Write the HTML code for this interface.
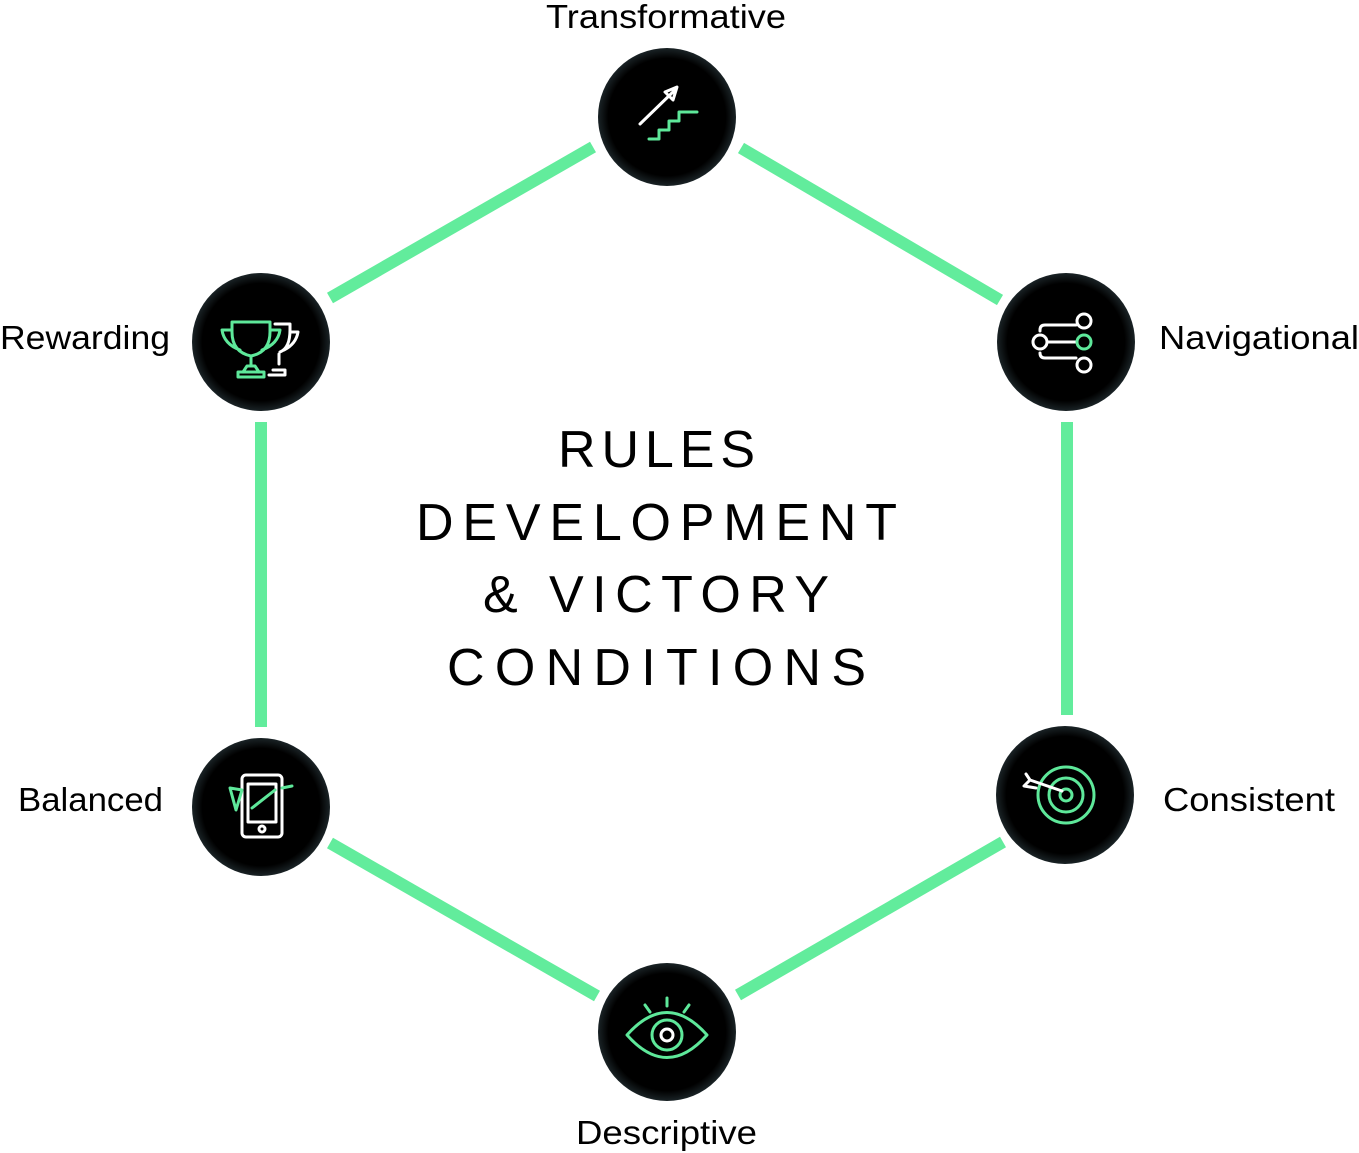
<!DOCTYPE html>
<html><head><meta charset="utf-8"><style>
html,body{margin:0;padding:0;background:#fff;}
svg{display:block;}
text{font-family:"Liberation Sans",sans-serif;fill:#000;}
</style></head><body>
<svg width="1359" height="1153" viewBox="0 0 1359 1153" xmlns="http://www.w3.org/2000/svg">
<defs>
<radialGradient id="g" cx="0.5" cy="0.5" r="0.5">
<stop offset="0.85" stop-color="#000"/><stop offset="1" stop-color="#1a2326"/>
</radialGradient>
</defs>
<g stroke="#62ec9c" stroke-width="12" fill="none">
<line x1="593" y1="147" x2="330" y2="298"/>
<line x1="741" y1="148" x2="1000" y2="300"/>
<line x1="1067" y1="422" x2="1067" y2="715"/>
<line x1="261" y1="422" x2="261" y2="727"/>
<line x1="330" y1="843" x2="597" y2="996"/>
<line x1="1003" y1="842" x2="738" y2="995"/>
</g>
<g fill="url(#g)">
<circle cx="667" cy="117" r="69"/>
<circle cx="1066" cy="342" r="69"/>
<circle cx="1065" cy="795" r="69"/>
<circle cx="667" cy="1032" r="69"/>
<circle cx="261" cy="807" r="69"/>
<circle cx="261" cy="342" r="69"/>
</g>
<g fill="none" stroke-width="3" stroke-linecap="round" stroke-linejoin="round">
<path d="M640 124 L675 90 M665 92 L677 87 L673 100 Z" stroke="#fff"/>
<path d="M649 139 H659 V130 H669 V121 H679 V112 H697" stroke="#5ee89a"/>
<path d="M232 322 H270 V332 Q270 352 251 356 Q232 352 232 332 Z M232 330 H222 Q224 344 240 350 M270 330 H280 Q278 344 262 350 M251 356 V366 M243 372 L247 366 H255 L259 372 M238 377 H264 V372 H238 Z" stroke="#5ee89a"/>
<path d="M275 324 H290 V330 Q290 348 280 352 M290 332 H298 Q296 344 284 350 M279 354 V364 M273 370 H285 V375 H269" stroke="#fff"/>
<path d="M1040 331 V330 Q1040 325 1045 325 H1076 M1040 353 Q1040 358 1045 358 H1076 M1048 342 H1076" stroke="#fff"/>
<circle cx="1084" cy="321" r="7" stroke="#fff"/>
<circle cx="1084" cy="365" r="7" stroke="#fff"/>
<circle cx="1084" cy="342" r="7" stroke="#5ee89a"/>
<circle cx="1040" cy="342" r="7" stroke="#fff"/>
<circle cx="1066" cy="795" r="28" stroke="#5ee89a"/>
<circle cx="1066" cy="795" r="17" stroke="#5ee89a"/>
<circle cx="1066" cy="795" r="6" stroke="#5ee89a"/>
<path d="M1062 791 L1030 780 M1030 780 L1024 786 L1036 788 M1030 780 L1026 774" stroke="#fff"/>
<path d="M627 1035 Q667 990 707 1035 Q667 1080 627 1035 Z" stroke="#5ee89a"/>
<circle cx="667" cy="1035" r="15" stroke="#5ee89a"/>
<path d="M667 998 V1006 M645 1005 L650 1012 M689 1005 L684 1012" stroke="#5ee89a"/>
<circle cx="667" cy="1035" r="6" stroke="#fff"/>
<rect x="242" y="775" width="40" height="62" rx="4" stroke="#fff"/>
<rect x="248" y="784" width="28" height="38" stroke="#fff"/>
<path d="M230 788 L242 790 L236 810 Z M282 788 L292 786 M252 808 L275 790" stroke="#5ee89a"/>
<circle cx="262" cy="829" r="3" stroke="#fff"/>
</g>
<g font-size="33" lengthAdjust="spacingAndGlyphs">
<text x="546" y="28" textLength="240" lengthAdjust="spacingAndGlyphs">Transformative</text>
<text x="1159" y="349" textLength="200" lengthAdjust="spacingAndGlyphs">Navigational</text>
<text x="1163" y="811" textLength="172" lengthAdjust="spacingAndGlyphs">Consistent</text>
<text x="576" y="1144" textLength="181" lengthAdjust="spacingAndGlyphs">Descriptive</text>
<text x="18" y="811" textLength="145" lengthAdjust="spacingAndGlyphs">Balanced</text>
<text x="0" y="349" textLength="170" lengthAdjust="spacingAndGlyphs">Rewarding</text>
</g>
<g font-size="52">
<text x="558" y="467" textLength="197" lengthAdjust="spacing">RULES</text>
<text x="416" y="540" textLength="481" lengthAdjust="spacing">DEVELOPMENT</text>
<text x="483" y="612" textLength="346" lengthAdjust="spacing">&amp; VICTORY</text>
<text x="447" y="685" textLength="419" lengthAdjust="spacing">CONDITIONS</text>
</g>
</svg>
</body></html>
